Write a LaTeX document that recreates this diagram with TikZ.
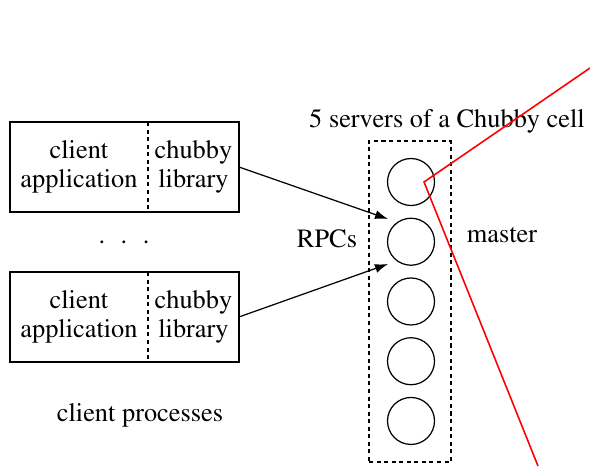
\documentclass[tikz,border=0pt]{standalone}
\usepackage[T1]{fontenc}
\usepackage{mathptmx}
\usetikzlibrary{arrows.meta,positioning}
\tikzset{txt/.style={font=\fontsize{15}{16.5}\selectfont,inner sep=0pt,outer sep=0pt,align=center}}
\tikzset{part/.style={txt,minimum height=1.8cm}}
\tikzset{server/.style={shape=circle,draw=black,line width=0.7pt,minimum size=0.94cm,inner sep=0pt}}
\tikzset{cellbox/.style={draw=black,line width=0.7pt,dash pattern=on 2.3pt off 2pt,inner sep=0pt}}
\tikzset{rpc/.style={draw=black,line width=0.7pt,-{Latex[length=2.6mm,width=1.8mm]}}}

\begin{document}
\begin{tikzpicture}[x=0.02cm,y=-0.02cm,node distance=1.195cm]
  \useasboundingbox (0,0) rectangle (590,466);

  % client processes
  \node (app1) [part, minimum width=2.76cm] at (79,167) {client\\application};
  \node (lib1) [part, minimum width=1.82cm, right=0pt of app1] {chubby\\library};
  \node (app2) [part, minimum width=2.76cm, below=1.2cm of app1] {client\\application};
  \node (lib2) [part, minimum width=1.82cm, right=0pt of app2] {chubby\\library};
  \draw[line width=0.7pt] (app1.north west) rectangle (lib1.south east);
  \draw[line width=0.7pt] (app2.north west) rectangle (lib2.south east);
  \draw[cellbox] (app1.north east) -- (app1.south east);
  \draw[cellbox] (app2.north east) -- (app2.south east);
  \node (dots) [txt, anchor=base] at (124,243) {.\hspace{0.31cm}.\hspace{0.31cm}.};
  \node (procs) [txt, anchor=base] at (140,421) {client processes};

  % chubby cell
  \node (cell) [cellbox, minimum width=1.64cm, minimum height=6.42cm] at (410,301.5) {};
  \node (S1) [server] at (411,182) {};
  \node (S2) [server, below of=S1] {};
  \node (S3) [server, below of=S2] {};
  \node (S4) [server, below of=S3] {};
  \node (S5) [server, below of=S4] {};
  \node (title) [txt, anchor=base] at (447,127) {5 servers of a Chubby cell};
  \node (rpcs) [txt, anchor=base] at (327,247) {RPCs};
  \node (master) [txt, anchor=base] at (502,242) {master};

  \coordinate (in1) at (388,219);
  \coordinate (in2) at (388,264);
  \path (lib1.east) edge [rpc] (in1);
  \path (lib2.east) edge [rpc] (in2);

  % red mark
  \coordinate (r1) at (590,68);
  \coordinate (rc) at (424,182);
  \coordinate (r2) at (538,466);
  \draw[red, line width=0.9pt] (r1) -- (rc) -- (r2);
\end{tikzpicture}
\end{document}
